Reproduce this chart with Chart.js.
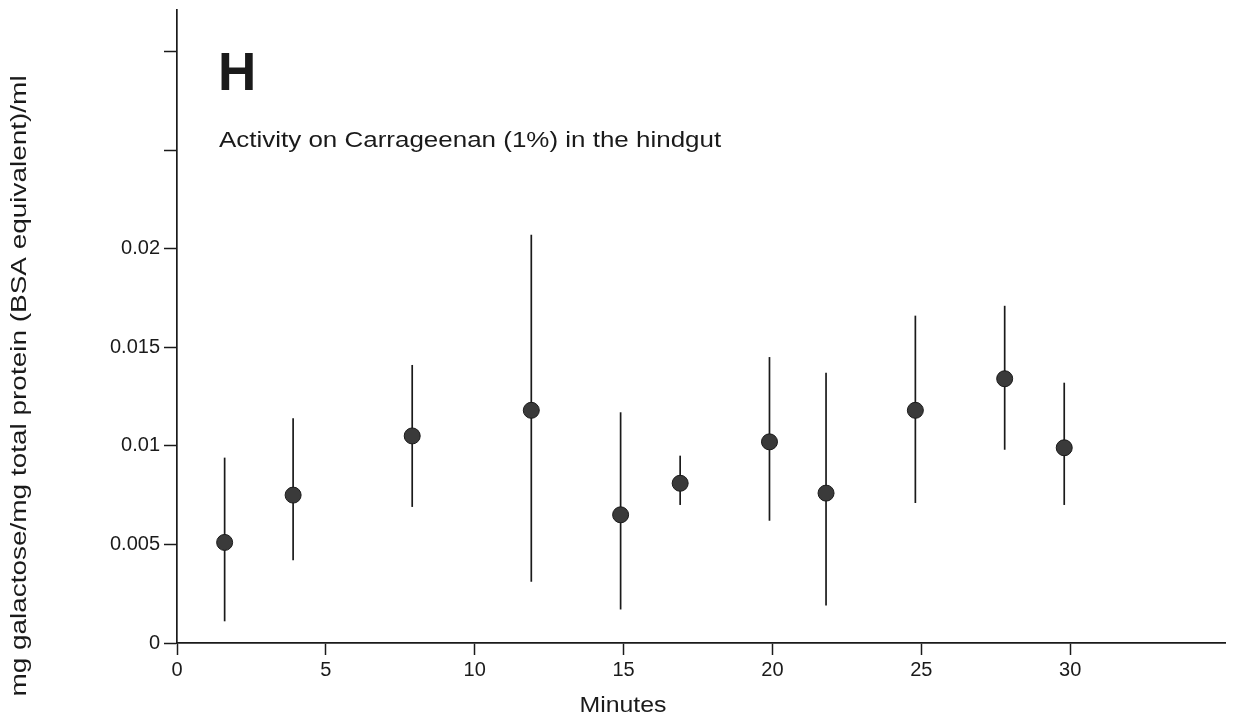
<!DOCTYPE html>
<html>
<head>
<meta charset="utf-8">
<title>Activity on Carrageenan (1%) in the hindgut</title>
<script src="https://cdn.jsdelivr.net/npm/chart.js@4.4.1/dist/chart.umd.min.js"></script>
<style>
  html, body { margin: 0; padding: 0; background: #fff; }
  #wrap { width: 1236px; height: 719px; position: relative; }
</style>
</head>
<body>
<div id="wrap"><canvas id="chart"></canvas></div>
<script>
// Carrageenan activity, hindgut (panel H)
const minutes   = [1.6, 3.9, 7.9, 11.9, 14.9, 16.9, 19.9, 21.8, 24.8, 27.8, 29.8];
const activity  = [0.0051, 0.0075, 0.0105, 0.0118, 0.0065, 0.0081, 0.0102, 0.0076, 0.0118, 0.0134, 0.0099];
const errHigh   = [0.0094, 0.0114, 0.0141, 0.0207, 0.0117, 0.0095, 0.0145, 0.0137, 0.0166, 0.0171, 0.0132];
const errLow    = [0.0011, 0.0042, 0.0069, 0.0031, 0.0017, 0.0070, 0.0062, 0.0019, 0.0071, 0.0098, 0.0070];

const xTicks = [0, 5, 10, 15, 20, 25, 30];
const yTicks = [0, 0.005, 0.01, 0.015, 0.02, 0.025, 0.03];
const yTickLabels = ['0', '0.005', '0.01', '0.015', '0.02', '', ''];

const panelLetter = 'H';
const panelTitle = 'Activity on Carrageenan (1%) in the hindgut';
const xTitle = 'Minutes';
const yTitle = 'mg galactose/mg total protein (BSA equivalent)/ml';

const FONT = '"Liberation Sans", Arial, Helvetica, sans-serif';
const INK = '#1a1a1a';

// vertical error bars, drawn under the markers
const errorBars = {
  id: 'errorBars',
  beforeDatasetsDraw(chart) {
    const { ctx, scales: { x, y } } = chart;
    ctx.save();
    ctx.strokeStyle = INK;
    ctx.lineWidth = 1.7;
    minutes.forEach((m, i) => {
      const px = x.getPixelForValue(m);
      ctx.beginPath();
      ctx.moveTo(px, y.getPixelForValue(errHigh[i]));
      ctx.lineTo(px, y.getPixelForValue(errLow[i]));
      ctx.stroke();
    });
    ctx.restore();
  }
};

// the scanned lettering is wide, so stretch it along the line of text
function wideText(ctx, text, x, y, stretch) {
  ctx.save();
  ctx.translate(x, y);
  ctx.scale(stretch, 1);
  ctx.fillText(text, 0, 0);
  ctx.restore();
}

// panel letter, caption and axis titles
const labels = {
  id: 'labels',
  afterDraw(chart) {
    const { ctx, chartArea } = chart;
    ctx.save();
    ctx.fillStyle = INK;
    ctx.textBaseline = 'alphabetic';
    ctx.textAlign = 'left';
    ctx.font = 'bold 53px ' + FONT;
    ctx.fillText(panelLetter, chartArea.left + 41, 90);
    ctx.font = '22px ' + FONT;
    wideText(ctx, panelTitle, chartArea.left + 42, 147, 1.18);

    ctx.textAlign = 'center';
    wideText(ctx, xTitle, 623, 712, 1.13);

    ctx.translate(26, 386);
    ctx.rotate(-Math.PI / 2);
    wideText(ctx, yTitle, 0, 0, 1.27);
    ctx.restore();
  }
};

new Chart(document.getElementById('chart'), {
  type: 'scatter',
  data: {
    datasets: [{
      data: minutes.map((m, i) => ({ x: m, y: activity[i] })),
      pointRadius: 8,
      pointHoverRadius: 8,
      pointBackgroundColor: '#3a3a3a',
      pointBorderColor: '#1a1a1a',
      pointBorderWidth: 1
    }]
  },
  options: {
    responsive: true,
    maintainAspectRatio: false,
    animation: false,
    layout: { padding: { top: 10, right: 11, left: 0, bottom: 0 } },
    plugins: { legend: { display: false }, tooltip: { enabled: false } },
    scales: {
      x: {
        type: 'linear',
        min: 0,
        max: 35.2,
        afterBuildTicks: axis => { axis.ticks = xTicks.map(v => ({ value: v })); },
        afterFit: scale => { scale.height = 76; scale.paddingLeft = 0; scale.paddingRight = 0; },
        grid: { drawOnChartArea: false, tickLength: 12, tickColor: INK, tickWidth: 1.5 },
        border: { display: true, color: INK, width: 1.7 },
        ticks: { color: INK, padding: 3, font: { family: FONT, size: 20 }, maxRotation: 0 }
      },
      y: {
        type: 'linear',
        min: 0,
        max: 0.0321,
        afterBuildTicks: axis => { axis.ticks = yTicks.map(v => ({ value: v })); },
        afterFit: scale => { scale.width = 177; scale.paddingTop = 0; scale.paddingBottom = 0; },
        grid: { drawOnChartArea: false, tickLength: 13, tickColor: INK, tickWidth: 1.5 },
        border: { display: true, color: INK, width: 1.7 },
        ticks: {
          color: INK,
          padding: 4,
          font: { family: FONT, size: 20 },
          callback: (v, i) => yTickLabels[i]
        }
      }
    }
  },
  plugins: [errorBars, labels]
});
</script>
</body>
</html>
